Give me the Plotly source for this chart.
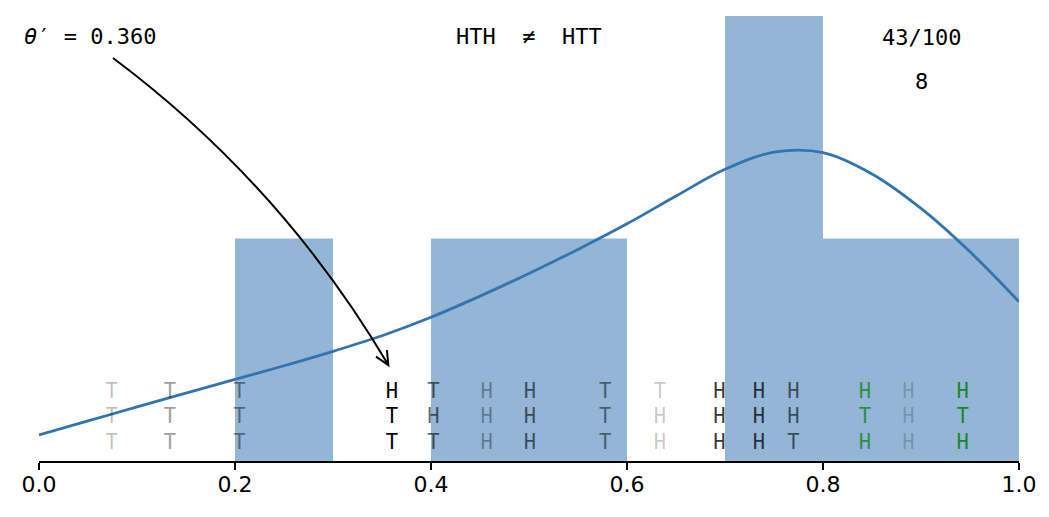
import math
import plotly.graph_objects as go

# ---------------- data ----------------
bin_edges = [0.0, 0.1, 0.2, 0.3, 0.4, 0.5, 0.6, 0.7, 0.8, 0.9, 1.0]
bin_counts = [0, 0, 1, 0, 1, 1, 0, 2, 1, 1]

curve_x = [0.0, 0.05, 0.10, 0.15, 0.20, 0.25, 0.30, 0.35, 0.40, 0.45, 0.50,
           0.55, 0.60, 0.65, 0.70, 0.75, 0.80, 0.85, 0.90, 0.95, 1.0]
curve_y = [0.117, 0.180, 0.243, 0.305, 0.367, 0.428, 0.493, 0.563, 0.646, 0.741,
           0.843, 0.951, 1.066, 1.191, 1.311, 1.388, 1.386, 1.290, 1.135,
           0.940, 0.716]

sample_x = [0.0742, 0.1337, 0.2044, 0.3600, 0.4024, 0.4568, 0.5010, 0.5776,
            0.6337, 0.6942, 0.7347, 0.7697, 0.8429, 0.8871, 0.9425]
sample_seq = ["TTT", "TTT", "TTT", "HTT", "THT", "HHH", "HHH", "TTT",
              "THH", "HHH", "HHH", "HHT", "HTH", "HHH", "HTH"]
sample_alpha = [0.25, 0.4, 0.45, 1.0, 0.62, 0.35, 0.6, 0.5,
                0.22, 0.8, 0.75, 0.6, 0.72, 0.2, 0.85]
sample_match = [False] * 12 + [True, False, True]
row_y = [0.307, 0.195, 0.076]

theta = 0.360
title_left = "<i>θ</i>′ = 0.360"
title_mid = "HTH  ≠  HTT"
title_right = "43/100"
title_right2 = "8"

x_ticks = [0.0, 0.2, 0.4, 0.6, 0.8, 1.0]

# ---------------- layout geometry ----------------
W, H = 1049, 517
L, R, T, B = 39, 1019, 16, 461
XR = [0.0, 1.0]
YR = [0.0, 2.0]


def px2d(px, py):
    return (XR[0] + (px - L) / (R - L) * (XR[1] - XR[0]),
            YR[0] + (B - py) / (B - T) * (YR[1] - YR[0]))


def d2px(x, y):
    return (L + (x - XR[0]) / (XR[1] - XR[0]) * (R - L),
            B - (y - YR[0]) / (YR[1] - YR[0]) * (B - T))


fig = go.Figure()

# histogram bars
centers = [(bin_edges[i] + bin_edges[i + 1]) / 2 for i in range(len(bin_counts))]
widths = [bin_edges[i + 1] - bin_edges[i] for i in range(len(bin_counts))]
fig.add_trace(go.Bar(x=centers, y=bin_counts, width=widths,
                     marker=dict(color="rgb(147,182,215)", line=dict(width=0)),
                     hoverinfo="skip"))

# density curve
fig.add_trace(go.Scatter(x=curve_x, y=curve_y, mode="lines",
                         line=dict(color="#3274b0", width=2.8, shape="spline",
                                   smoothing=1.0),
                         hoverinfo="skip"))

# letters
tx, ty, tt, tc = [], [], [], []
for x, seq, a, m in zip(sample_x, sample_seq, sample_alpha, sample_match):
    base = "0,128,0" if m else "0,0,0"
    for ch, yy in zip(seq, row_y):
        tx.append(x)
        ty.append(yy)
        tt.append(ch)
        tc.append(f"rgba({base},{a})")
fig.add_trace(go.Scatter(x=tx, y=ty, text=tt, mode="text",
                         textposition="middle center",
                         textfont=dict(family="DejaVu Sans Mono", size=20.5, color=tc),
                         cliponaxis=False, hoverinfo="skip"))

# curved arrow (arc3-like quadratic bezier), built in pixel space
sx, sy = 113.0, 58.0
ex, ey = d2px(theta - 0.0035, 0.431)
dx, dy = ex - sx, ey - sy
rad = 0.1
cx, cy = (sx + ex) / 2 + rad * dy, (sy + ey) / 2 - rad * dx
S = px2d(sx, sy)
C = px2d(cx, cy)
E = px2d(ex, ey)
fig.add_shape(type="path", xref="x", yref="y",
              path=f"M {S[0]},{S[1]} Q {C[0]},{C[1]} {E[0]},{E[1]}",
              line=dict(color="black", width=2))
tdx, tdy = ex - cx, ey - cy
nrm = math.hypot(tdx, tdy)
ux, uy = -tdx / nrm, -tdy / nrm
hl = 15.0
arms = []
for ang in (math.radians(25), math.radians(-25)):
    rx = ux * math.cos(ang) - uy * math.sin(ang)
    ry = ux * math.sin(ang) + uy * math.cos(ang)
    arms.append(px2d(ex + hl * rx, ey + hl * ry))
fig.add_shape(type="path", xref="x", yref="y",
              path=f"M {arms[0][0]},{arms[0][1]} L {E[0]},{E[1]} L {arms[1][0]},{arms[1][1]}",
              line=dict(color="black", width=2))

# texts
mono = dict(family="DejaVu Sans Mono", size=22, color="black")
fig.add_annotation(text=title_left, xref="paper", yref="paper",
                   x=(22 - L) / (R - L), y=(B - 37) / (B - T),
                   xanchor="left", yanchor="middle", showarrow=False, font=mono)
fig.add_annotation(text=title_mid, xref="x", yref="paper", x=0.5,
                   y=(B - 37) / (B - T), xanchor="center", yanchor="middle",
                   showarrow=False, font=mono)
fig.add_annotation(text=title_right, xref="x", yref="paper", x=0.9,
                   y=(B - 37.5) / (B - T), xanchor="center", yanchor="middle",
                   showarrow=False, font=mono)
fig.add_annotation(text=title_right2, xref="x", yref="paper", x=0.9,
                   y=(B - 81.7) / (B - T), xanchor="center", yanchor="middle",
                   showarrow=False, font=mono)

fig.update_layout(
    width=W, height=H,
    margin=dict(l=L, r=W - R, t=T, b=H - B),
    paper_bgcolor="white", plot_bgcolor="white",
    showlegend=False,
    xaxis=dict(range=XR, showgrid=False, zeroline=False, showline=True,
               linecolor="black", linewidth=1.5, ticks="outside", ticklen=7,
               tickwidth=1.5, tickcolor="black", tickvals=x_ticks,
               ticktext=[f"{v:.1f}" for v in x_ticks], ticklabelstandoff=-4,
               tickfont=dict(family="DejaVu Sans", size=22, color="black")),
    yaxis=dict(range=YR, visible=False, showgrid=False, zeroline=False),
)

fig.write_html("out.html", config={"displayModeBar": False},
               post_script="document.body.style.margin='0px';document.body.style.overflow='hidden';")
